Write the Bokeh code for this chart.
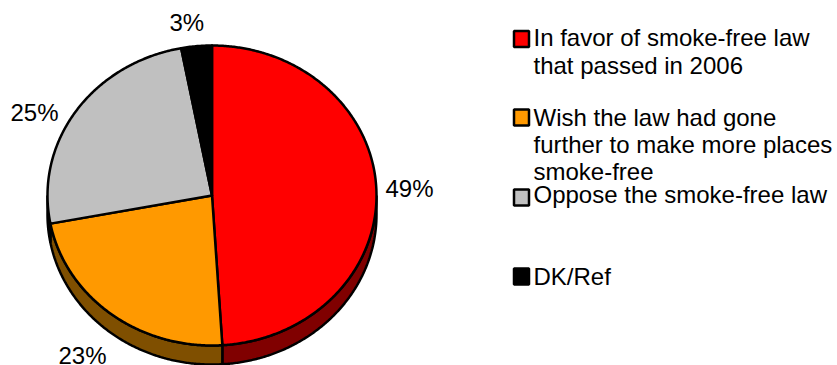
import numpy as np
from bokeh.core.properties import value
from bokeh.embed import file_html
from bokeh.models import Range1d
from bokeh.plotting import figure
from bokeh.resources import INLINE

# Survey shares, clockwise from twelve o'clock
categories = [
    ["In favor of smoke-free law", "that passed in 2006"],
    ["Wish the law had gone", "further to make more places", "smoke-free"],
    ["Oppose the smoke-free law"],
    ["DK/Ref"],
]
shares = [49, 23, 25, 3]
top_colors = ["#FF0000", "#FF9900", "#C0C0C0", "#000000"]
wall_colors = ["#800000", "#7F4F00", "#606060", "#000000"]

# Pie geometry in page pixels
CX, CY, RX, RY, DEPTH = 211.5, 195.0, 164.5, 150.0, 19.0
# Data-label anchors (left edge, vertical middle)
label_x = [385, 58, 10, 169]
label_y = [188, 355, 112, 22]
# Legend layout
SWATCH_X0, SWATCH_X1, TEXT_X = 513.5, 528.5, 533
swatch_tops = [30.5, 109, 189, 268]
line_middles = [[36.5, 64.5], [117, 144, 171], [194], [276]]

FONT = value("Liberation Sans")
FONT_SIZE = value("24px")
LINE = 2.5

p = figure(
    width=837, height=365, output_backend="svg", toolbar_location=None,
    x_range=Range1d(0, 837), y_range=Range1d(365, 0),
    min_border=0, outline_line_color=None,
    x_axis_location=None, y_axis_location=None,
)
p.grid.visible = False
p.background_fill_color = "white"
p.border_fill_color = "white"

edges = np.cumsum([0] + shares) / sum(shares) * 2 * np.pi


def rim(a0, a1, dy=0.0):
    t = np.linspace(a0, a1, max(2, int((a1 - a0) * 120)))
    return CX + RX * np.sin(t), CY - RY * np.cos(t) + dy


# Side wall: only the front half of the disc shows
for i in range(len(shares)):
    a0 = max(edges[i], np.pi / 2)
    a1 = min(edges[i + 1], 3 * np.pi / 2)
    if a1 <= a0:
        continue
    x, y = rim(a0, a1)
    xb, yb = rim(a0, a1, DEPTH)
    p.patch(np.r_[x, xb[::-1]], np.r_[y, yb[::-1]],
            fill_color=wall_colors[i], line_color="black", line_width=LINE)

# Top face
for i in range(len(shares)):
    x, y = rim(edges[i], edges[i + 1])
    p.patch(np.r_[CX, x], np.r_[CY, y], fill_color=top_colors[i],
            line_color="black", line_width=LINE, line_join="round")

# Percentage labels
p.text(label_x, label_y, text=[f"{s}%" for s in shares], text_font=FONT,
       text_font_size=FONT_SIZE, text_color="black", text_baseline="middle")

# Legend
p.quad(left=SWATCH_X0, right=SWATCH_X1,
       top=swatch_tops, bottom=[t + 16 for t in swatch_tops],
       fill_color=top_colors, line_color="black", line_width=LINE)
for lines, middles in zip(categories, line_middles):
    p.text([TEXT_X] * len(lines), middles, text=lines, text_font=FONT,
           text_font_size=FONT_SIZE, text_color="black", text_baseline="middle")

open("out.html", "w").write(file_html(p, INLINE))
